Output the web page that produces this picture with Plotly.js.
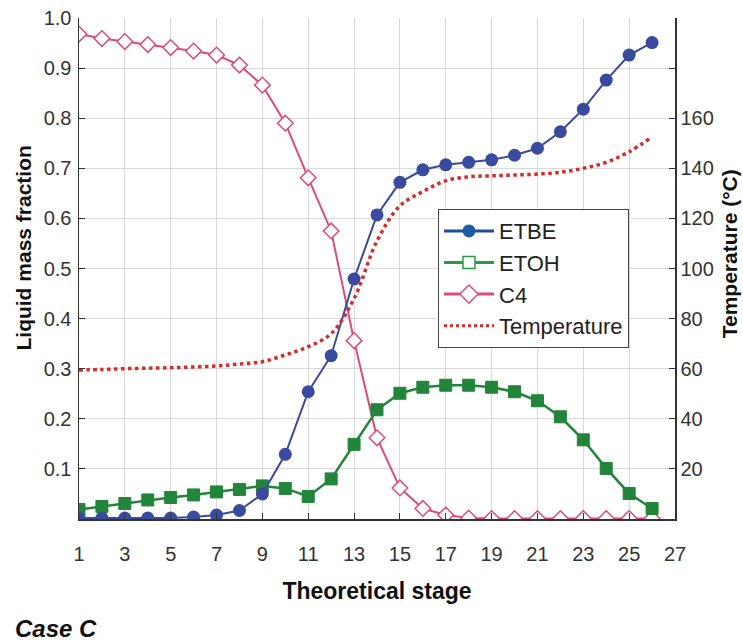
<!DOCTYPE html>
<html>
<head>
<meta charset="utf-8">
<script src="https://cdn.plot.ly/plotly-3.0.1.min.js"></script>
<style>html,body{margin:0;padding:0;background:#fff;}#chart{width:743px;height:641px;}</style>
</head>
<body>
<div id="chart"></div>
<script>
const stages = [1,2,3,4,5,6,7,8,9,10,11,12,13,14,15,16,17,18,19,20,21,22,23,24,25,26];
const etbe = [0.002,0.002,0.002,0.002,0.002,0.004,0.008,0.017,0.050,0.129,0.254,0.326,0.479,0.607,0.672,0.697,0.707,0.712,0.717,0.726,0.740,0.773,0.818,0.876,0.926,0.951];
const etoh = [0.019,0.025,0.031,0.038,0.043,0.048,0.054,0.059,0.066,0.061,0.045,0.080,0.149,0.218,0.251,0.263,0.267,0.267,0.263,0.254,0.236,0.204,0.158,0.101,0.051,0.021];
const c4 = [0.968,0.959,0.953,0.947,0.941,0.934,0.926,0.906,0.866,0.790,0.681,0.575,0.356,0.162,0.062,0.021,0.008,0.002,0.001,0.001,0.001,0.001,0.001,0.001,0.001,0.001];
const temperature = [59.5,59.7,60.0,60.2,60.4,60.7,61.1,61.9,62.8,65.5,68.8,74.0,88.0,111.0,125.0,130.7,135.0,136.6,137.0,137.3,137.7,138.4,140.0,142.4,146.6,152.6];
const xTicks = [1,3,5,7,9,11,13,15,17,19,21,23,25,27];
const yTicks = [0,0.1,0.2,0.3,0.4,0.5,0.6,0.7,0.8,0.9,1.0];
const yTickText = ['','0.1','0.2','0.3','0.4','0.5','0.6','0.7','0.8','0.9','1.0'];
const y2Ticks = [0,20,40,60,80,100,120,140,160,180,200];
const y2TickText = ['','20','40','60','80','100','120','140','160','',''];

const cBlue = '#3a4a9e', cGreen = '#22853a', cPink = '#dc4a7e', cRed = '#d92a2a';
const font = 'Liberation Sans, Arial, Helvetica, sans-serif';
const titleFont = {family: font, size: 21, color: '#111111'};

const traces = [
  {x: stages, y: c4, name: 'C4', mode: 'lines+markers', showlegend: false,
   line: {color: cPink, width: 2}, marker: {symbol: 'diamond', size: 12, color: '#ffffff', line: {color: cPink, width: 1.5}}},
  {x: stages, y: etoh, name: 'ETOH', mode: 'lines+markers', showlegend: false,
   line: {color: cGreen, width: 2.5}, marker: {symbol: 'square', size: 12, color: cGreen, line: {color: cGreen, width: 1}}},
  {x: stages, y: etbe, name: 'ETBE', mode: 'lines+markers', showlegend: false,
   line: {color: cBlue, width: 2}, marker: {symbol: 'circle', size: 13, color: cBlue}},
  {x: stages, y: temperature, name: 'Temperature', yaxis: 'y2', mode: 'lines', showlegend: false,
   line: {color: cRed, width: 3.5, dash: 'dot', shape: 'spline'}},
  // legend entries
  {x: [null], y: [null], name: 'ETBE', mode: 'lines+markers', legendgroup: 'a', legendrank: 1,
   line: {color: '#1f4f9c', width: 3}, marker: {symbol: 'circle', size: 13, color: '#1f5aa8'}},
  {x: [null], y: [null], name: 'ETOH', mode: 'lines+markers', legendgroup: 'b', legendrank: 2,
   line: {color: '#2a9a48', width: 3}, marker: {symbol: 'square', size: 12, color: '#ffffff', line: {color: '#2a9a48', width: 1.5}}},
  {x: [null], y: [null], name: 'C4', mode: 'lines+markers', legendgroup: 'c', legendrank: 3,
   line: {color: cPink, width: 3}, marker: {symbol: 'diamond', size: 14, color: '#ffffff', line: {color: cPink, width: 1.5}}},
  {x: [null], y: [null], name: 'Temperature', mode: 'lines', legendgroup: 'd', legendrank: 4,
   line: {color: cRed, width: 3, dash: 'dot'}}
];

const layout = {
  width: 743, height: 641,
  margin: {l: 79, r: 68, t: 18, b: 122},
  paper_bgcolor: '#ffffff', plot_bgcolor: '#ffffff',
  font: {family: font, size: 20, color: '#333333'},
  showlegend: true,
  legend: {x: 0.602, y: 0.619, xanchor: 'left', yanchor: 'top', bgcolor: '#ffffff',
           bordercolor: '#444444', borderwidth: 1.2, tracegroupgap: 6,
           font: {family: font, size: 22, color: '#222222'}, itemwidth: 50, traceorder: 'normal',
           entrywidth: 196, entrywidthmode: 'pixels'},
  xaxis: {range: [1, 27], tickvals: xTicks, ticktext: xTicks.map(String),
          showgrid: true, gridcolor: '#d9d9d9', gridwidth: 1,
          showline: true, linecolor: '#333333', linewidth: 1.5,
          ticks: 'inside', ticklen: 6, tickcolor: '#333333', zeroline: false,
          ticklabelstandoff: 16,
          title: {text: '<b>Theoretical stage</b>', font: {family: font, size: 23, color: '#111111'}, standoff: 19}},
  yaxis: {range: [0, 1], tickvals: yTicks, ticktext: yTickText,
          showgrid: true, gridcolor: '#d9d9d9', gridwidth: 1,
          showline: true, linecolor: '#333333', linewidth: 1.5,
          ticks: 'inside', ticklen: 6, tickcolor: '#333333', zeroline: false,
          ticklabelstandoff: 2},
  yaxis2: {range: [0, 200], overlaying: 'y', side: 'right', tickvals: y2Ticks, ticktext: y2TickText,
           showgrid: false, showline: true, linecolor: '#333333', linewidth: 1.5,
           ticks: 'inside', ticklen: 6, tickcolor: '#333333', zeroline: false,
           ticklabelstandoff: 0},
  annotations: [
    {text: '<b>Liquid mass fraction</b>', xref: 'paper', yref: 'paper', x: -0.093, y: 0.541,
     xanchor: 'center', yanchor: 'middle', textangle: -90, showarrow: false, font: titleFont},
    {text: '<b>Temperature (°C)</b>', xref: 'paper', yref: 'paper', x: 1.092, y: 0.53,
     xanchor: 'center', yanchor: 'middle', textangle: -90, showarrow: false, font: titleFont},
    {text: '<b><i>Case C</i></b>', xref: 'paper', yref: 'paper', x: -0.11, y: -0.218,
     xanchor: 'left', yanchor: 'middle', showarrow: false, font: {family: font, size: 24, color: '#111111'}}
  ]
};

Plotly.newPlot('chart', traces, layout, {displayModeBar: false, staticPlot: true});
</script>
</body>
</html>
